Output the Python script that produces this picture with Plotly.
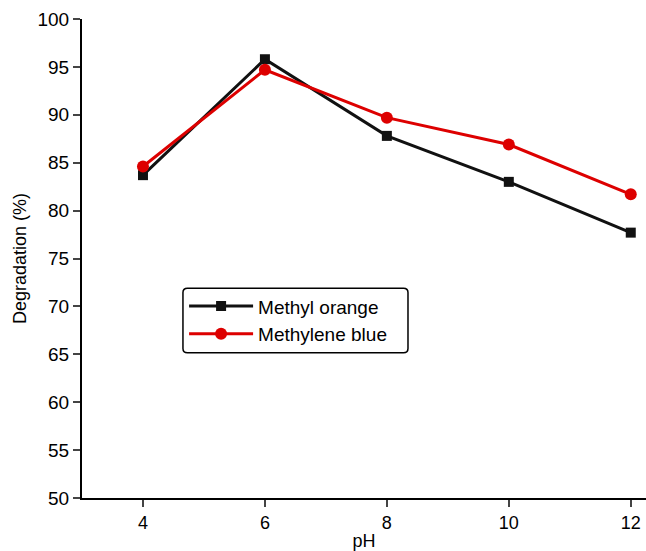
import plotly.graph_objects as go

ph = [4, 6, 8, 10, 12]
methyl_orange = [83.7, 95.8, 87.8, 83.0, 77.7]
methylene_blue = [84.6, 94.7, 89.7, 86.9, 81.7]
x_ticks = [4, 6, 8, 10, 12]
y_ticks = [50, 55, 60, 65, 70, 75, 80, 85, 90, 95, 100]

fig = go.Figure()
fig.add_trace(go.Scatter(
    x=ph, y=methyl_orange, name="Methyl orange", mode="lines+markers",
    line=dict(color="#111111", width=3),
    marker=dict(symbol="square", size=10, color="#111111"),
))
fig.add_trace(go.Scatter(
    x=ph, y=methylene_blue, name="Methylene blue", mode="lines+markers",
    line=dict(color="#dd0000", width=3),
    marker=dict(symbol="circle", size=12, color="#dd0000"),
))

# rounded legend frame (paper coordinates)
x0, x1, y0, y1 = 0.179, 0.578, 0.303, 0.438
rx, ry = 0.008, 0.009
path = (f"M {x0+rx},{y1} L {x1-rx},{y1} Q {x1},{y1} {x1},{y1-ry} "
        f"L {x1},{y0+ry} Q {x1},{y0} {x1-rx},{y0} L {x0+rx},{y0} "
        f"Q {x0},{y0} {x0},{y0+ry} L {x0},{y1-ry} Q {x0},{y1} {x0+rx},{y1} Z")

fig.update_layout(
    width=646, height=551,
    margin=dict(l=82, r=0, t=19, b=53),
    plot_bgcolor="white", paper_bgcolor="white",
    font=dict(family="Liberation Sans, Arial, sans-serif", size=18, color="black"),
    showlegend=True,
    shapes=[dict(type="path", path=path, xref="paper", yref="paper",
                 line=dict(color="black", width=1.5), fillcolor="white", layer="above")],
    legend=dict(
        x=0.181, y=0.44, xanchor="left", yanchor="top",
        borderwidth=0, bgcolor="rgba(0,0,0,0)",
        font=dict(size=19), tracegroupgap=2, itemwidth=64,
    ),
    xaxis=dict(
        range=[3, 12.25], tickvals=x_ticks, ticks="outside", ticklen=7, tickwidth=2,
        showline=True, linecolor="black", linewidth=2, showgrid=False, zeroline=False,
        tickfont=dict(size=18),
        title=dict(text="pH", standoff=4, font=dict(size=18)),
    ),
    yaxis=dict(
        range=[50, 100], tickvals=y_ticks, ticks="outside", ticklen=7, tickwidth=2,
        showline=True, linecolor="black", linewidth=2, showgrid=False, zeroline=False,
        tickfont=dict(size=19),
        title=dict(text="Degradation (%)", standoff=6, font=dict(size=18)),
    ),
)

fig.write_html("out.html")
